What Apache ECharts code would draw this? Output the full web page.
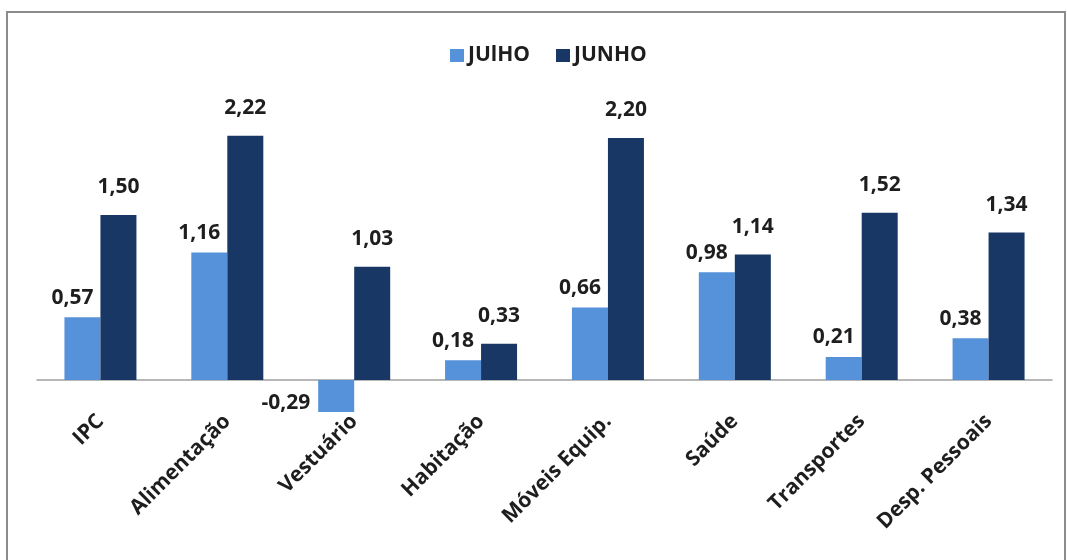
<!DOCTYPE html>
<html>
<head>
<meta charset="utf-8">
<style>
  html, body { margin: 0; padding: 0; background: #ffffff; }
  #chart { width: 1067px; height: 560px; }
</style>
<script src="https://cdn.jsdelivr.net/npm/echarts@6/dist/echarts.min.js"></script>
</head>
<body>
<div id="chart"></div>
<script>
// Variação mensal por grupo do IPC (%)
const categories = ['IPC', 'Alimentação', 'Vestuário', 'Habitação', 'Móveis Equip.', 'Saúde', 'Transportes', 'Desp. Pessoais'];
const seriesNames = ['JUlHO', 'JUNHO'];
const julho = [0.57, 1.16, -0.29, 0.18, 0.66, 0.98, 0.21, 0.38];
const junho = [1.50, 2.22, 1.03, 0.33, 2.20, 1.14, 1.52, 1.34];

const FONT = '"Open Sans", "Noto Sans", sans-serif';
const LIGHT = '#5592da';
const DARK = '#183764';

const fmt = v => v.toFixed(2).replace('.', ',');

// negative values carry their label beside the bar, positives above it
function items(values, dist, shiftX) {
  return values.map(v => ({
    value: v,
    label: v < 0
      ? { position: 'left', distance: 8, offset: [0, 7] }
      : { position: 'top', distance: dist, offset: [shiftX, 0] }
  }));
}

const chart = echarts.init(document.getElementById('chart'), null, { renderer: 'canvas' });

const labelStyle = {
  show: true,
  formatter: p => fmt(p.value),
  fontFamily: FONT,
  fontWeight: 'bold',
  fontSize: 21,
  color: '#1e1e1e'
};

chart.setOption({
  backgroundColor: '#ffffff',
  animation: false,
  graphic: [{
    type: 'rect',
    shape: { x: 7, y: 12, width: 1058, height: 560 },
    style: { fill: 'none', stroke: '#8c8c8c', lineWidth: 2 },
    silent: true
  }],
  legend: {
    top: 40,
    left: 445,
    itemWidth: 14,
    itemHeight: 13,
    itemGap: 26,
    icon: 'rect',
    textStyle: { fontFamily: FONT, fontWeight: 'bold', fontSize: 21, color: '#1e1e1e', padding: [0, 0, 0, -1] },
    data: seriesNames
  },
  grid: { left: 37, right: 15, top: 105, bottom: 125 },
  xAxis: {
    type: 'category',
    data: categories,
    axisLine: { onZero: true, lineStyle: { color: '#a0a0a0', width: 1.5 } },
    axisTick: { show: false },
    axisLabel: {
      rotate: 45,
      interval: 0,
      margin: -17,
      fontFamily: FONT,
      fontWeight: 'bold',
      fontSize: 21,
      color: '#1e1e1e'
    }
  },
  yAxis: {
    type: 'value',
    min: -0.5,
    max: 2.5,
    show: false,
    splitLine: { show: false }
  },
  series: [
    {
      name: seriesNames[0],
      type: 'bar',
      data: items(julho, 9, -10),
      itemStyle: { color: LIGHT },
      barWidth: 36,
      barGap: '0%',
      label: labelStyle
    },
    {
      name: seriesNames[1],
      type: 'bar',
      data: items(junho, 17, 0),
      itemStyle: { color: DARK },
      barWidth: 36,
      barGap: '0%',
      label: labelStyle
    }
  ]
});
</script>
</body>
</html>
